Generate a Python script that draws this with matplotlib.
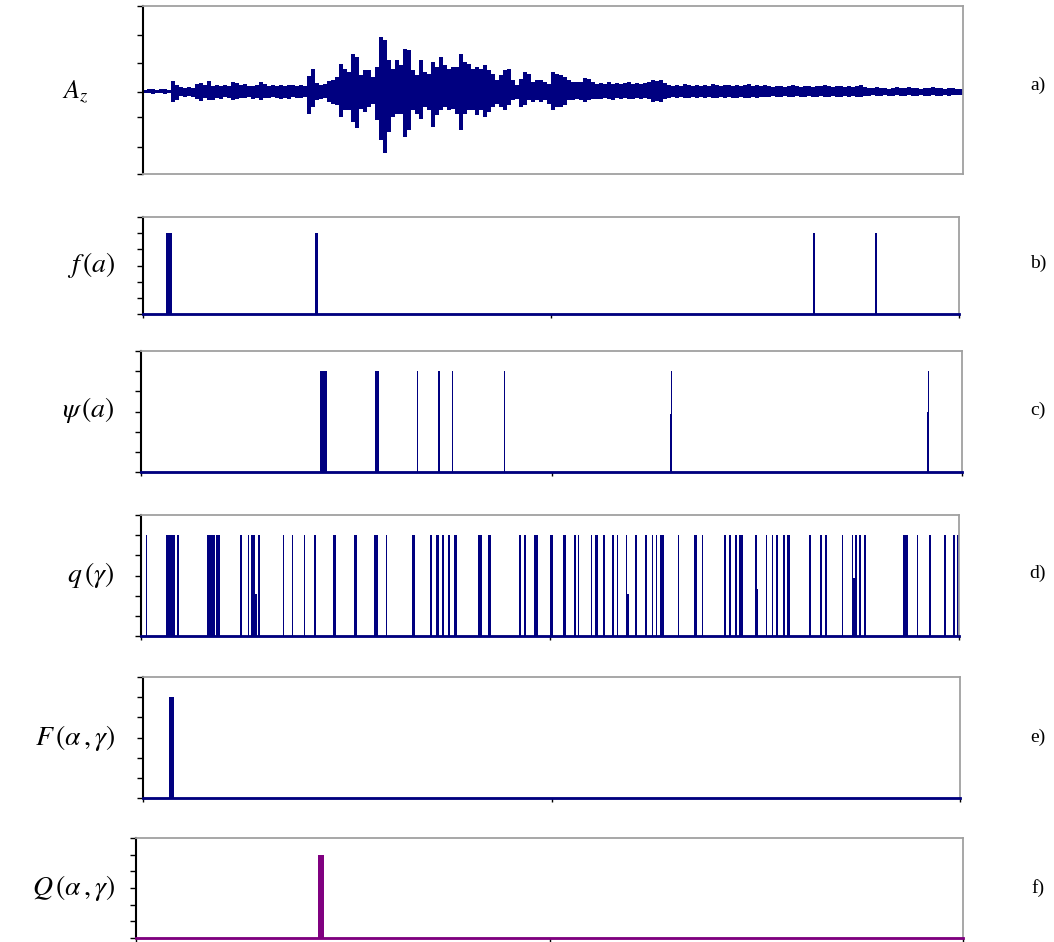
import numpy as np
import matplotlib
matplotlib.use("Agg")
import matplotlib.pyplot as plt

plt.rcParams['mathtext.fontset'] = 'stix'

NAVY = '#000080'
PURPLE = '#800080'
GRAY = '#a0a0a0'

# a) vertical component A_z, envelope read per sample block (upper / lower amplitude)
az_up = [2, 3, 3, 2, 3, 3, 2, 11, 7, 5, 4, 5, 4, 8, 9, 7, 11, 6, 7, 6, 7, 6,
         10, 9, 7, 8, 6, 6, 7, 10, 8, 6, 7, 6, 7, 6, 7, 7, 6, 7, 6,
         16, 23, 9, 7, 8, 11, 12, 15, 28, 23, 20, 38, 35, 17, 22, 22, 15, 25,
         55, 52, 32, 23, 32, 27, 43, 42, 22, 17, 32, 20, 18, 30, 25, 35, 27,
         23, 25, 25, 38, 30, 28, 23, 25, 23, 27, 22, 18, 12, 17, 22, 23, 12,
         7, 13, 20, 18, 10, 12, 12, 10, 8, 20, 18, 17, 15, 12, 10, 10, 10, 14,
         13, 10, 8,
         9, 8, 10, 8, 9, 8, 9, 10, 8, 9, 8, 9, 10,
         12, 11, 12, 9,
         7, 6, 7, 6, 8, 7, 6, 7, 6, 7, 6, 8, 7, 6, 7, 7, 6, 7, 6, 7, 8, 6, 7, 6,
         7, 6, 5, 6, 6, 5, 6, 7, 6, 5, 6, 6, 5, 6, 6, 7, 6, 5, 6, 6, 5, 6, 5, 6, 7,
         5, 4, 4, 5, 4, 4, 3, 4, 5, 4, 4, 5, 4, 4, 3, 4, 4, 5, 4, 4, 3, 4, 4, 3, 3]
az_low = [1, 1, 2, 1, 1, 2, 1, 10, 8, 4, 5, 4, 5, 7, 9, 6, 8, 8, 6, 7, 5, 6,
          8, 7, 6, 6, 5, 7, 6, 8, 6, 6, 5, 6, 7, 6, 7, 5, 6, 6, 5,
          22, 15, 8, 7, 6, 10, 12, 13, 25, 18, 18, 30, 36, 17, 20, 15, 12, 28,
          48, 61, 40, 25, 22, 22, 45, 38, 18, 22, 27, 15, 18, 35, 23, 18, 15,
          18, 17, 22, 38, 22, 18, 18, 23, 18, 25, 20, 15, 12, 15, 18, 13, 8,
          7, 15, 13, 8, 10, 8, 10, 8, 12, 18, 15, 15, 13, 8, 8, 7, 8, 10,
          8, 7, 7,
          7, 6, 7, 8, 6, 7, 6, 7, 7, 6, 7, 6, 7,
          10, 9, 10, 7,
          6, 5, 6, 5, 6, 6, 5, 6, 5, 6, 5, 6, 6, 5, 6, 5, 6, 6, 5, 6, 6, 5, 6, 5,
          5, 5, 4, 5, 5, 4, 5, 5, 4, 5, 5, 4, 5, 5, 4, 5, 5, 4, 5, 5, 4, 5, 4, 5, 5,
          4, 4, 3, 4, 4, 3, 4, 4, 3, 4, 4, 3, 4, 4, 3, 4, 4, 3, 4, 4, 3, 4, 3, 3, 3]

# b)-f): impulse sequences on a 0..1000 time scale: (start, width, height)
f_a = [(28, 7, 1), (211, 3, 1), (821, 3, 1), (897, 3, 1)]
psi_a = [(218, 9, 1), (285, 5.3, 1), (336, 1.5, 1), (362, 1.6, 1), (378.5, 1.6, 1),
         (442, 1.6, 1), (644, 2, 0.58), (646, 1.2, 1), (957, 1.6, 0.6), (958.5, 1.2, 1)]
q_g = [(6.1, 1.5, 1), (30, 11.4, 1), (43.6, 3.2, 1), (80.3, 10.2, 1), (91.7, 4.9, 1),
       (121, 2, 1), (130.4, 1.6, 1), (134.5, 5.3, 1), (139.7, 2, 0.42), (143.4, 2, 1),
       (173.6, 1.6, 1), (184.2, 2, 1), (198.9, 2, 1), (211.9, 2, 1), (234.2, 4, 1),
       (260.4, 4, 1), (284.4, 5.7, 1), (299, 2, 1), (330.9, 4, 1), (353.3, 2, 1),
       (360.6, 4, 1), (368, 2.4, 1), (375.7, 2, 1), (382.6, 4, 1), (412.3, 4, 1),
       (423.8, 4, 1), (462.5, 2, 1), (468.2, 2, 1), (480.8, 4, 1), (500, 3.3, 1),
       (516.3, 3.3, 1), (529.7, 1.7, 1), (533.8, 1.7, 1), (549.7, 2, 1), (555, 4, 1),
       (565.2, 2, 1), (576.2, 2, 1), (581.5, 2, 1), (592.7, 1.6, 1), (593.6, 2.4, 0.42),
       (603.9, 2, 1), (616.5, 2, 1), (624.2, 2, 1), (629.4, 2, 1), (634.5, 4.9, 1),
       (656.1, 2, 1), (676, 4, 1), (685.4, 2, 1), (713, 2, 1), (719.2, 2, 1),
       (726.2, 2, 1), (731.4, 4, 1), (750.9, 2, 1), (751.8, 2.4, 0.47), (763.6, 2, 1),
       (770.9, 2, 1), (776.2, 2, 1), (785.2, 2.4, 1), (789.4, 4, 1), (817, 2, 1),
       (830, 2, 1), (836.2, 2, 1), (856.5, 2, 1), (868.7, 2, 1), (869.5, 4.5, 0.58),
       (872.9, 2, 1), (877.8, 2, 1), (883.9, 2, 1), (931.9, 6.1, 1), (948.2, 2, 1),
       (963.8, 2, 1), (982, 2, 1), (993, 2, 1), (998, 2, 1)]
F_ag = [(31.8, 6.5, 1)]
Q_ag = [(220.4, 6.9, 1)]

left_labels = [r'$A_z$', r'$f\,(a)$', r'$\psi\,(a)$', r'$q\,(\gamma)$',
               r'$F\,(\alpha\,,\gamma)$', r'$Q\,(\alpha\,,\gamma)$']
right_labels = ['a)', 'b)', 'c)', 'd)', 'e)', 'f)']

W, H = 1054, 942
fig = plt.figure(figsize=(W / 100, H / 100), dpi=100)


def box(l, r, t, b):
    return [l / W, (H - b) / H, (r - l) / W, (b - t) / H]


def frame(ax, bottom_gray=False):
    ax.spines['left'].set_color('black')
    ax.spines['left'].set_linewidth(1.5)
    ax.spines['top'].set_color(GRAY)
    ax.spines['right'].set_color(GRAY)
    ax.spines['top'].set_linewidth(1.3)
    ax.spines['right'].set_linewidth(1.3)
    if bottom_gray:
        ax.spines['bottom'].set_color(GRAY)
        ax.spines['bottom'].set_linewidth(1.3)
    else:
        ax.spines['bottom'].set_color('black')
        ax.spines['bottom'].set_linewidth(1.0)
    ax.tick_params(axis='y', direction='out', length=4, width=1, labelleft=False)
    ax.tick_params(axis='x', direction='out', length=3, width=1, labelbottom=False)


# a) seismogram
ax = fig.add_axes(box(143, 963, 6, 174))
edges = np.arange(len(az_up) + 1) - 0.5
ax.stairs(az_up, edges, baseline=-np.array(az_low), fill=True, color=NAVY, lw=0)
ax.axhline(0, color=NAVY, lw=1.2)
ax.set_xlim(edges[0], edges[-1])
ax.set_ylim(-82, 86)
ax.set_yticks([86, 57, 29, 0, -25, -55, -82])
ax.set_xticks([])
frame(ax, bottom_gray=True)

# b)-f) impulse panels
panels = [
    (f_a, NAVY, (143, 959, 217, 314)),
    (psi_a, NAVY, (141, 962, 351, 472)),
    (q_g, NAVY, (141, 959, 515, 636)),
    (F_ag, NAVY, (143, 960, 677, 798)),
    (Q_ag, PURPLE, (136, 963, 838, 938)),
]
for data, col, pos in panels:
    ax = fig.add_axes(box(*pos))
    starts = [d[0] for d in data]
    widths = [d[1] for d in data]
    heights = [d[2] for d in data]
    ax.bar(starts, heights, width=widths, align='edge', color=col, lw=0)
    ax.axhline(0, color=col, lw=2, clip_on=False, zorder=5)
    ax.set_xlim(0, 1000)
    ax.set_ylim(0, 1.2)
    ax.set_yticks([0, 0.2, 0.4, 0.6, 0.8, 1.0, 1.2])
    ax.set_xticks([0, 500, 1000])
    frame(ax)

# labels
ys_left = [92, 265, 410, 575, 738, 888]
ys_right = [85, 263, 410, 573, 737, 888]
for i, (lab, y) in enumerate(zip(left_labels, ys_left)):
    if i == 0:
        fig.text(75 / W, 1 - y / H, lab, ha='center', va='center', fontsize=19)
    else:
        fig.text(115 / W, 1 - y / H, lab, ha='right', va='center', fontsize=20)
for lab, y in zip(right_labels, ys_right):
    fig.text(1038 / W, 1 - y / H, lab, ha='center', va='center', fontsize=14,
             family='Liberation Serif')

fig.savefig('out.png', dpi=100)
